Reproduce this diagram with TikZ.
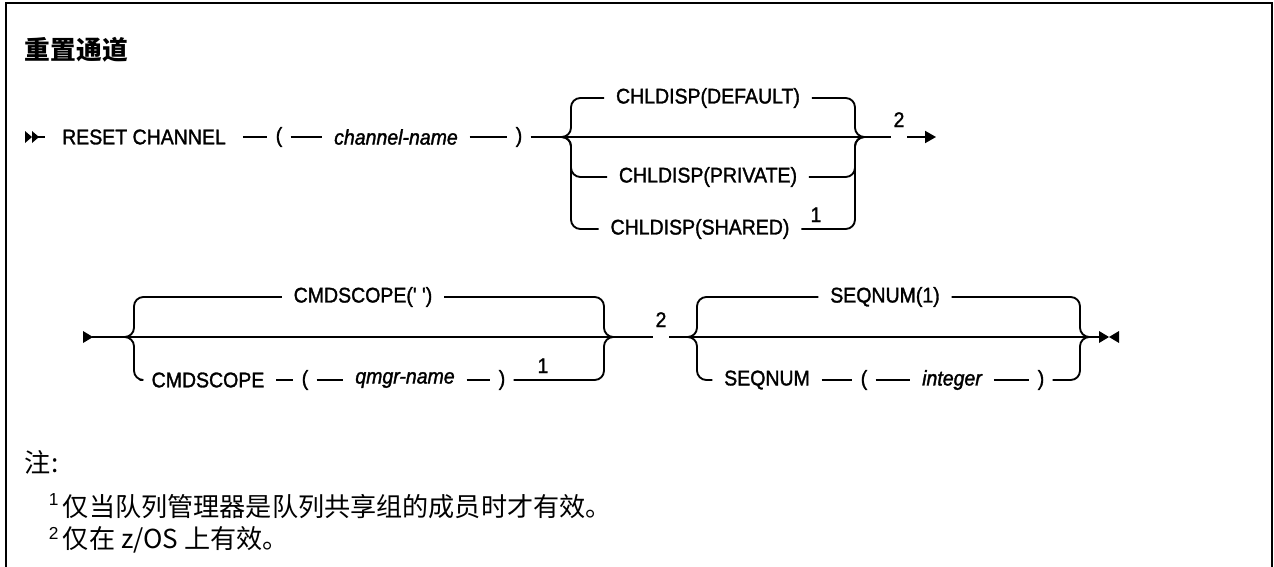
\documentclass[tikz,border=0pt]{standalone}
\usepackage{fontspec}
\setmainfont{Liberation Sans}
\newfontfamily\lat{Liberation Sans}[FakeStretch=0.92,FakeBold=1.5]
\newfontfamily\latn{Liberation Sans}
\newfontfamily\cjk{Noto Sans CJK SC}
\usetikzlibrary{arrows.meta}
\begin{document}
\begin{tikzpicture}[x=0.75pt,y=-0.75pt, line width=1.4pt,
 every node/.style={inner ysep=0pt, inner xsep=0pt, font=\lat\fontsize{15.9}{18}\selectfont},
 kw/.style={inner xsep=8.25pt},
 pn/.style={inner xsep=5.6pt},
 var/.style={kw, font=\lat\itshape\fontsize{15.9}{18}\selectfont},
 sup/.style={inner sep=1.5pt},
 br/.style={rounded corners=7pt},
 tip/.style={-{Triangle[length=8.25pt,width=9pt]}},
 note/.style={font=\cjk\fontsize{19.6}{24}\selectfont},
 fn/.style={font=\latn\fontsize{13}{15}\selectfont}
]
\useasboundingbox (0,0) rectangle (1274,567);
\draw[line width=1.5pt] (6,575) -- (6,3) -- (1272,3) -- (1272,575);
\node[anchor=west, font=\cjk\bfseries\fontsize{19.3}{22}\selectfont] (title) at (24,50) {重置通道};

% ---------- row 1 ----------
\fill (25,131) -- (32,137) -- (25,143) -- cycle;
\fill (32,131) -- (39,137) -- (32,143) -- cycle;
\coordinate (s1) at (38,137);
\node[inner xsep=12pt] (rc) at (144,137) {RESET CHANNEL};
\node[pn] (lp1) at (279,137) {(};
\node[var] (cn) at (396,137) {channel-name};
\node[pn] (rp1) at (519,137) {)};
\coordinate (j1) at (565,137);
\coordinate (b1) at (571,137);
\node[kw] (def) at (708,98) {CHLDISP(DEFAULT)};
\node[kw] (pri) at (708,177) {CHLDISP(PRIVATE)};
\node[kw] (sha) at (700,229) {CHLDISP(SHARED)};
\node[sup, anchor=south] (n1a) at (816,225) {1};
\coordinate (b2) at (855,137);
\coordinate (j2) at (861,137);
\node[sup, anchor=south] (n2a) at (899,130) {2};
\coordinate (e1) at (936,137);

\draw (s1) -- (rc.west);
\draw (rc.east) -- (lp1.west);
\draw (lp1.east) -- (cn.west);
\draw (cn.east) -- (rp1.west);
\draw (rp1.east) -- (n2a.south west |- j1);
\draw[br] (j1) -| (b1 |- def) -- (def.west);
\draw[br] (j1) -| (b1 |- pri) -- (pri.west);
\draw[br] (j1) -| (b1 |- sha) -- (sha.west);
\draw[br] (def.east) -| (b2) -- (j2);
\draw[br] (pri.east) -| (b2) -- (j2);
\draw[br] (sha.east) -| (b2) -- (j2);
\draw[tip] (n2a.south east |- j1) -- (e1);

% ---------- row 2 ----------
\fill (83,331) -- (93,337) -- (83,343) -- cycle;
\coordinate (s2) at (92,337);
\coordinate (j3) at (128,337);
\coordinate (b3) at (134,337);
\node[kw] (cs1) at (363,297) {CMDSCOPE(' ')};
\node[kw] (cs2) at (208,380) {CMDSCOPE};
\node[pn] (lp2) at (305,380) {(};
\node[var] (qm) at (405,380) {qmgr-name};
\node[pn] (rp2) at (502,380) {)};
\node[sup, anchor=south] (n1b) at (543,376) {1};
\coordinate (b4) at (604,337);
\coordinate (j4) at (610,337);
\node[sup, anchor=south] (n2b) at (661,330) {2};
\coordinate (j5) at (691,337);
\coordinate (b5) at (697,337);
\node[kw] (sq1) at (885,297) {SEQNUM(1)};
\node[kw] (sq2) at (767,380) {SEQNUM};
\node[pn] (lp3) at (864,380) {(};
\node[var] (int) at (952,380) {integer};
\node[pn] (rp3) at (1041,380) {)};
\coordinate (b6) at (1080,337);
\coordinate (j6) at (1086,337);
\coordinate (e2) at (1100,337);

\draw (s2) -- (n2b.south west |- s2);
\draw (n2b.south east |- s2) -- (j6) -- (e2);
\draw[br] (j3) -| (b3 |- cs1) -- (cs1.west);
\draw[br] (j3) -| (b3 |- cs2) -- (cs2.west);
\draw (cs2.east) -- (lp2.west);
\draw (lp2.east) -- (qm.west);
\draw (qm.east) -- (rp2.west);
\draw[br] (cs1.east) -| (b4) -- (j4);
\draw[br] (rp2.east) -| (b4) -- (j4);
\draw[br] (j5) -| (b5 |- sq1) -- (sq1.west);
\draw[br] (j5) -| (b5 |- sq2) -- (sq2.west);
\draw (sq2.east) -- (lp3.west);
\draw (lp3.east) -- (int.west);
\draw (int.east) -- (rp3.west);
\draw[br] (sq1.east) -| (b6) -- (j6);
\draw[br] (rp3.east) -| (b6) -- (j6);
\fill (1099,331) -- (1109,337) -- (1099,343) -- cycle;
\fill (1119,331) -- (1109,337) -- (1119,343) -- cycle;

% ---------- notes ----------
\node[anchor=west, note] (zhu) at (24,462) {注:};
\node[anchor=west, fn] (f1) at (48,500) {1};
\node[anchor=west, note] (t1) at (62,507) {仅当队列管理器是队列共享组的成员时才有效。};
\node[anchor=west, fn] (f2) at (48,533) {2};
\node[anchor=west, note] (t2) at (62,540) {仅在 z/OS 上有效。};
\end{tikzpicture}
\end{document}
